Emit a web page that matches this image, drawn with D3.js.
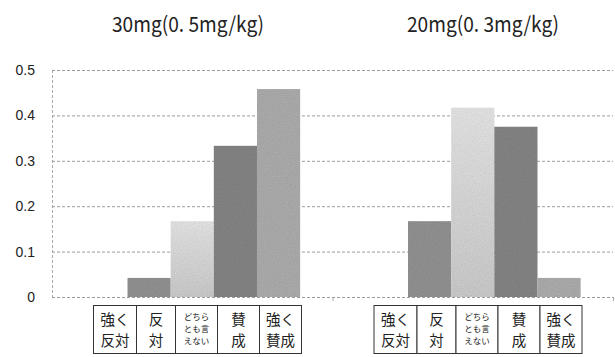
<!DOCTYPE html>
<html>
<head>
<meta charset="utf-8">
<script src="https://cdn.jsdelivr.net/npm/d3@7"></script>
<style>
  html, body { margin: 0; padding: 0; background: #fff; }
  svg { display: block; }
</style>
</head>
<body>
<svg id="chart" width="615" height="357"></svg>
<script>
// Dose groups and response categories
const doses = ["30mg(0. 5mg/kg)", "20mg(0. 3mg/kg)"];
const responses = ["強く反対", "反対", "どちらとも言えない", "賛成", "強く賛成"];
// Label text per response box, one entry per line
const responseLines = [["強く", "反対"], ["反", "対"], ["どちら", "とも言", "えない"], ["賛", "成"], ["強く", "賛成"]];
// Share of respondents per response, for each dose
const share30 = [0, 0.042, 0.167, 0.333, 0.458];
const share20 = [0, 0.167, 0.417, 0.375, 0.042];
const yTicks = [0, 0.1, 0.2, 0.3, 0.4, 0.5];
const yTickLabels = ["0", "0.1", "0.2", "0.3", "0.4", "0.5"];

const seriesColors = ["#8a8a8a", "#929292", "#d3d3d3", "#848484", "#acacac"];

const data = [share30, share20];

const svg = d3.select("#chart");
const plot = { left: 52, right: 613, top: 70, bottom: 297 };

const x0 = d3.scaleBand().domain(d3.range(doses.length))
  .range([plot.left, plot.right]).paddingInner(0).paddingOuter(0);
const x1 = d3.scaleBand().domain(d3.range(responses.length))
  .range([0, x0.bandwidth()]).paddingInner(0).paddingOuter(0.75);
const y = d3.scaleLinear().domain([0, 0.5]).range([plot.bottom, plot.top]);

// Grain texture for the bars
const defs = svg.append("defs");
const f = defs.append("filter").attr("id", "grain").attr("x", 0).attr("y", 0).attr("width", 1).attr("height", 1);
f.append("feTurbulence").attr("type", "fractalNoise").attr("baseFrequency", 0.9).attr("numOctaves", 2).attr("seed", 3).attr("result", "n");
f.append("feColorMatrix").attr("in", "n").attr("type", "matrix")
  .attr("values", "0 0 0 0 0  0 0 0 0 0  0 0 0 0 0  0 0 0 0.25 -0.05").attr("result", "na");
f.append("feComposite").attr("in", "na").attr("in2", "SourceGraphic").attr("operator", "in").attr("result", "nc");
f.append("feMerge").call(m => { m.append("feMergeNode").attr("in", "SourceGraphic"); m.append("feMergeNode").attr("in", "nc"); });

const lg = defs.append("linearGradient").attr("id", "lightGrad").attr("x1", 0).attr("y1", 0).attr("x2", 0).attr("y2", 1);
lg.append("stop").attr("offset", 0).attr("stop-color", "#e4e4e4");
lg.append("stop").attr("offset", 1).attr("stop-color", "#cacaca");

// Horizontal gridlines
svg.append("g").selectAll("line").data(yTicks).join("line")
  .attr("x1", plot.left).attr("x2", plot.right)
  .attr("y1", d => y(d) + 0.5).attr("y2", d => y(d) + 0.5)
  .attr("stroke", "#9c9c9c").attr("stroke-width", 1).attr("stroke-dasharray", "3,2");

// Vertical value axis line
svg.append("line")
  .attr("x1", plot.left + 0.5).attr("x2", plot.left + 0.5)
  .attr("y1", plot.top).attr("y2", plot.bottom + 3)
  .attr("stroke", "#a8a8a8").attr("stroke-dasharray", "3,2");

// Category ticks between groups
svg.append("g").selectAll("line").data(d3.range(1, doses.length + 1)).join("line")
  .attr("x1", d => (d < doses.length ? x0(d) : plot.right) + 0.5)
  .attr("x2", d => (d < doses.length ? x0(d) : plot.right) + 0.5)
  .attr("y1", plot.bottom).attr("y2", plot.bottom + 4)
  .attr("stroke", "#aaa");

// Y tick labels
svg.append("g").selectAll("text").data(yTicks).join("text")
  .attr("x", 35).attr("y", d => y(d)).attr("dy", "0.36em")
  .attr("text-anchor", "end")
  .attr("font-family", "Liberation Sans, Arial, sans-serif").attr("font-size", 14)
  .attr("fill", "#222")
  .text((d, i) => yTickLabels[i]);

// Bars
const groups = svg.append("g").selectAll("g").data(data).join("g")
  .attr("transform", (d, i) => `translate(${x0(i)},0)`);
groups.selectAll("rect").data(d => d).join("rect")
  .attr("x", (d, i) => x1(i))
  .attr("width", x1.bandwidth())
  .attr("y", d => y(d))
  .attr("height", d => y(0) - y(d))
  .attr("fill", (d, i) => i === 2 ? "url(#lightGrad)" : seriesColors[i])
  .attr("filter", "url(#grain)");

// Dose titles
const titleX = [188, 483];
svg.append("g").selectAll("text").data(doses).join("text")
  .attr("x", (d, i) => titleX[i]).attr("y", 32)
  .attr("text-anchor", "middle")
  .attr("font-family", "Noto Sans CJK JP, sans-serif").attr("font-size", 21)
  .attr("fill", "#222")
  .attr("textLength", 152).attr("lengthAdjust", "spacingAndGlyphs")
  .text(d => d);

// Response label boxes under each group
const boxW = [43, 39, 42, 42, 42];
const boxTop = 305, boxH = 48;
doses.forEach((dose, g) => {
  let bx = x0(g) + 41;
  const bg = svg.append("g");
  responses.forEach((r, i) => {
    bg.append("rect").attr("x", bx + 0.5).attr("y", boxTop + 0.5)
      .attr("width", boxW[i]).attr("height", boxH)
      .attr("fill", "#fff").attr("stroke", "#333").attr("stroke-width", 1);
    const lines = responseLines[i];
    const small = lines.length > 2;
    const fs = small ? 8.5 : 14.5;
    const lh = small ? 12.4 : 21.2;
    const cy = boxTop + boxH / 2 + (small ? 0 : 1);
    lines.forEach((ln, k) => {
      bg.append("text")
        .attr("x", bx + boxW[i] / 2 + 0.5)
        .attr("y", cy + (k - (lines.length - 1) / 2) * lh)
        .attr("dy", "0.36em")
        .attr("text-anchor", "middle")
        .attr("font-family", "Noto Sans CJK JP, sans-serif")
        .attr("font-size", fs).attr("fill", "#222")
        .text(ln);
    });
    bx += boxW[i];
  });
});
</script>
</body>
</html>
